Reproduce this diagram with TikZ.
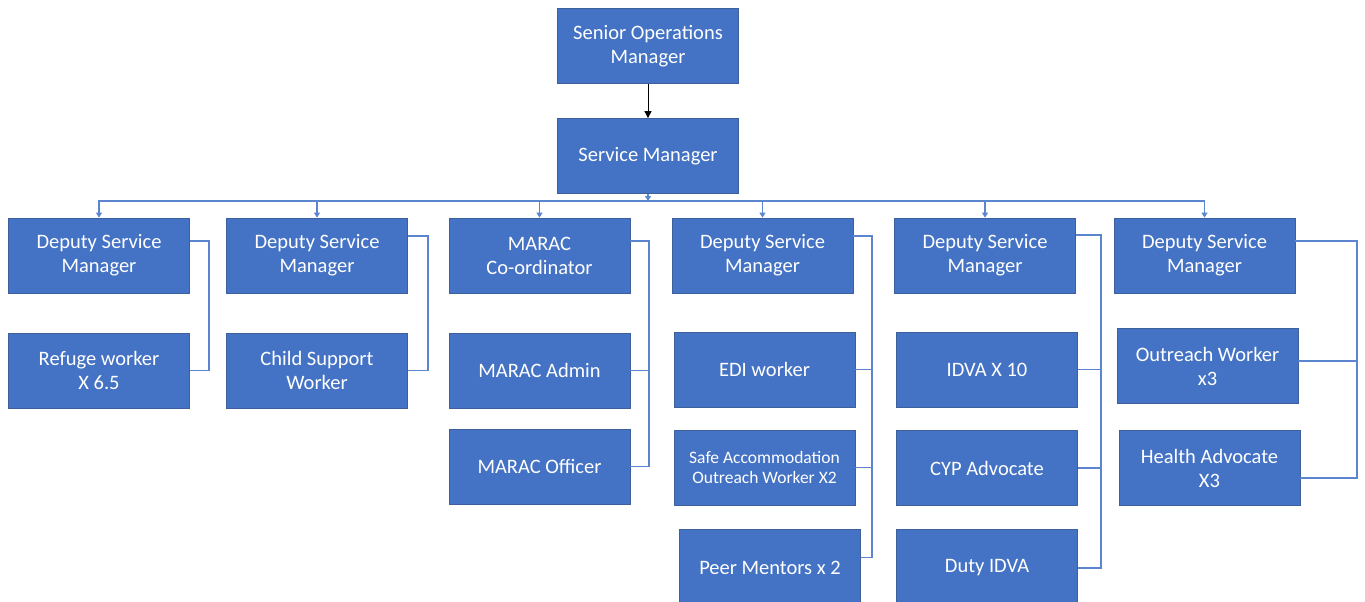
\documentclass[tikz,border=0pt]{standalone}
\usepackage{fontspec}
\setmainfont{Carlito}
\usetikzlibrary{arrows.meta,calc}
\definecolor{boxblue}{HTML}{4472C4}
\definecolor{boxedge}{HTML}{3D5F9C}
\definecolor{connblue}{HTML}{5B86CF}
\tikzset{
  box/.style={draw=boxedge, line width=0.8pt, fill=boxblue, text=white,
    minimum width=181pt, minimum height=75pt, inner sep=2pt, align=center,
    font=\fontsize{20.5}{24}\selectfont},
  smallbox/.style={box, font=\fontsize{17.5}{20}\selectfont},
  conn/.style={draw=connblue, line width=1.1pt},
  connarrow/.style={conn, -{Triangle[width=6pt,length=5pt]}},
  blackarrow/.style={draw=black, line width=0.9pt, -{Triangle[width=7pt,length=7pt]}}
}
\begin{document}
\begin{tikzpicture}[x=1pt,y=1pt]
\useasboundingbox (0,0) rectangle (1365,-602);
\fill[white] (0,0) rectangle (1365,-602);
\clip (0,0) rectangle (1365,-602);
% top
\node[box] (som) at (648,-46) {Senior Operations\\Manager};
\node[box] (sm) at (648,-156) {Service Manager};
% row 1
\node[box] (d1) at (99,-255.5) {Deputy Service\\Manager};
\node[box] (d2) at (317,-255.5) {Deputy Service\\Manager};
\node[box] (mc) at (539.5,-255.5) {MARAC\\Co-ordinator};
\node[box] (d4) at (762.5,-255.5) {Deputy Service\\Manager};
\node[box] (d5) at (985,-255.5) {Deputy Service\\Manager};
\node[box] (d6) at (1204.5,-255.5) {Deputy Service\\Manager};
% row 2
\node[box] (rw) at (99,-370.5) {Refuge worker\\X 6.5};
\node[box] (cs) at (317,-370.5) {Child Support\\Worker};
\node[box] (ma) at (539.5,-370.5) {MARAC Admin};
\node[box] (edi) at (764.5,-369.5) {EDI worker};
\node[box] (idva) at (987,-369.5) {IDVA X 10};
\node[box] (ow) at (1207.5,-366) {Outreach Worker\\x3};
% row 3
\node[box] (mo) at (539.5,-466.5) {MARAC Officer};
\node[smallbox] (sa) at (764.5,-467.5) {Safe Accommodation\\Outreach Worker X2};
\node[box] (cyp) at (987,-468) {CYP Advocate};
\node[box] (ha) at (1209.5,-468) {Health Advocate\\X3};
% row 4
\node[box, minimum height=77pt] (pm) at (770,-567.5) {Peer Mentors x 2};
\node[box, minimum height=77pt] (duty) at (987,-568) {Duty IDVA};
% top arrow
\draw[blackarrow] (som.south) -- (sm.north);
% bus
\coordinate (bus) at (648,-201);
\draw[connarrow] (sm.south) -- (bus);
\foreach \n in {d1,d2,mc,d4,d5,d6} {
  \draw[connarrow] (bus) -| (\n.north);
}
% spines
\coordinate (s1) at (209,0);
\coordinate (s2) at (428,0);
\coordinate (s3) at (649,0);
\coordinate (s4) at (872,0);
\coordinate (s5) at (1101,0);
\coordinate (s6) at (1357,0);
% connection points
\coordinate (d1o) at ([yshift=14.5pt]d1.east);
\coordinate (d2o) at ([yshift=19.5pt]d2.east);
\coordinate (mco) at ([yshift=14.5pt]mc.east);
\coordinate (d4o) at ([yshift=19.5pt]d4.east);
\coordinate (d5o) at ([yshift=20.5pt]d5.east);
\coordinate (d6o) at ([yshift=14.5pt]d6.east);
\coordinate (pmi) at ([yshift=10pt]pm.east);
\coordinate (owi) at ([yshift=5pt]ow.east);
\coordinate (hai) at ([yshift=-10pt]ha.east);
% group 1
\draw[conn] (d1o) -| (s1 |- rw.east) -- (rw.east);
% group 2
\draw[conn] (d2o) -| (s2 |- cs.east) -- (cs.east);
% group 3
\draw[conn] (mco) -| (s3 |- mo.east) -- (mo.east);
\draw[conn] (ma.east) -- (s3 |- ma.east);
% group 4
\draw[conn] (d4o) -| (s4 |- pmi) -- (pmi);
\draw[conn] (edi.east) -- (s4 |- edi.east);
\draw[conn] (sa.east) -- (s4 |- sa.east);
% group 5
\draw[conn] (d5o) -| (s5 |- duty.east) -- (duty.east);
\draw[conn] (idva.east) -- (s5 |- idva.east);
\draw[conn] (cyp.east) -- (s5 |- cyp.east);
% group 6
\draw[conn] (d6o) -| (s6 |- hai) -- (hai);
\draw[conn] (owi) -- (s6 |- owi);
\end{tikzpicture}
\end{document}
